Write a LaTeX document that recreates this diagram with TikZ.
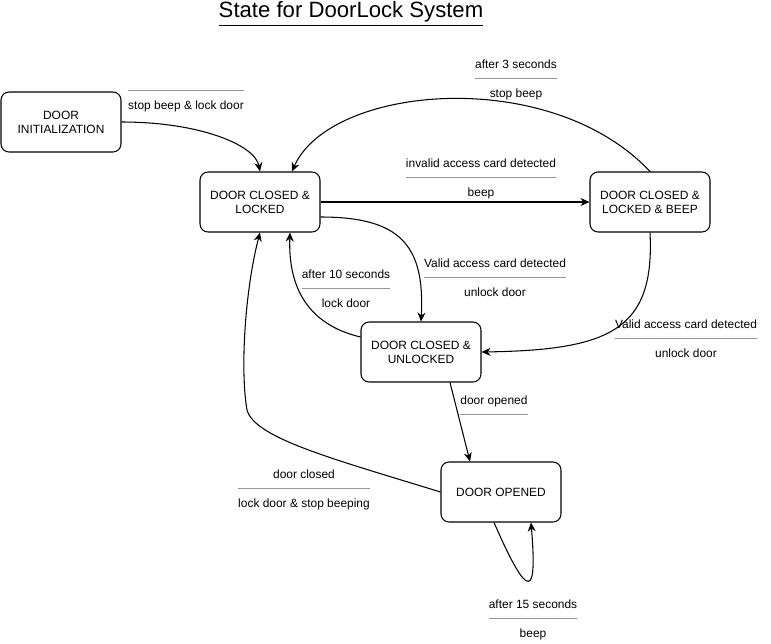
\documentclass[tikz,border=0pt]{standalone}
\usepackage{fontspec}
\setmainfont{Liberation Sans}
\usepackage{colortbl}
\usetikzlibrary{arrows.meta, calc}
\definecolor{rulegray}{RGB}{150,150,150}
% etiqueta de transicion: evento / accion
\newcommand{\trans}[2]{{\arrayrulecolor{rulegray}\begin{tabular}{@{}c@{}}\rule[-5.4pt]{0pt}{7pt}#1\\\hline\rule{0pt}{10.4pt}#2\end{tabular}}}

\begin{document}
\begin{tikzpicture}[x=0.02cm, y=-0.02cm, >={Stealth[length=1.8mm, width=1.6mm]}, line width=0.6pt,
  state/.style={draw, rounded corners=0.16cm, minimum width=2.4cm, minimum height=1.2cm,
    align=center, inner sep=0pt, font=\fontsize{6.8}{7.9}\selectfont},
  lbl/.style={inner sep=0pt, font=\fontsize{6.8}{7.9}\selectfont}]
  \useasboundingbox (0,0) rectangle (771,643);
  % titulo
  \node (title) at (351,14) {\fontsize{12.6}{15}\selectfont\underline{State for DoorLock System}};
  % estados
  \node[state] (init) at (61,122) {DOOR\\INITIALIZATION};
  \node[state] (lock) at (260,202) {DOOR CLOSED \&\\LOCKED};
  \node[state] (beep) at (650,202) {DOOR CLOSED \&\\LOCKED \& BEEP};
  \node[state] (unl) at (421,352) {DOOR CLOSED \&\\UNLOCKED};
  \node[state] (open) at (501,492) {DOOR OPENED};
  % transiciones
  \draw[->] (init.east) .. controls (200,122) and (255,145) .. (lock.north);
  \draw[->] (beep.north) .. controls (550,65) and (330,85) .. ($(lock.north)+(32,0)$);
  \draw[->] (lock.east) -- (beep.west);
  \draw[->] ($(lock.east)+(0,15)$) .. controls (400,217) and (425,245) .. (unl.north);
  \draw[->] ($(unl.west)+(0,-15)$) .. controls (310,325) and (288,290) .. ($(lock.south)+(30,0)$);
  \draw[->] (beep.south) .. controls (655,330) and (610,350) .. (unl.east);
  \draw[->] ($(unl.south)+(29,0)$) -- ($(open.north)+(-31,0)$);
  \draw[->] (open.west) .. controls (330,458) and (255,438) .. (247,410)
    .. controls (240,370) and (245,290) .. (lock.south);
  \draw[->] ($(open.south)+(-7,0)$) .. controls (530,605) and (537,595) .. ($(open.south)+(30,0)$);
  % etiquetas
  \node[lbl] (l1) at (186,92) {\trans{}{stop beep \& lock door}};
  \node[lbl] (l2) at (516,80) {\trans{after 3 seconds}{stop beep}};
  \node[lbl] (l3) at (481,179) {\trans{invalid access card detected}{beep}};
  \node[lbl] (l4) at (495,279) {\trans{Valid access card detected}{unlock door}};
  \node[lbl] (l5) at (346,290) {\trans{after 10 seconds}{lock door}};
  \node[lbl] (l6) at (686,340) {\trans{Valid access card detected}{unlock door}};
  \node[lbl] (l7) at (494,416) {\trans{door opened}{}};
  \node[lbl] (l8) at (304,490) {\trans{door closed}{lock door \& stop beeping}};
  \node[lbl] (l9) at (533,620) {\trans{after 15 seconds}{beep}};
\end{tikzpicture}
\end{document}
